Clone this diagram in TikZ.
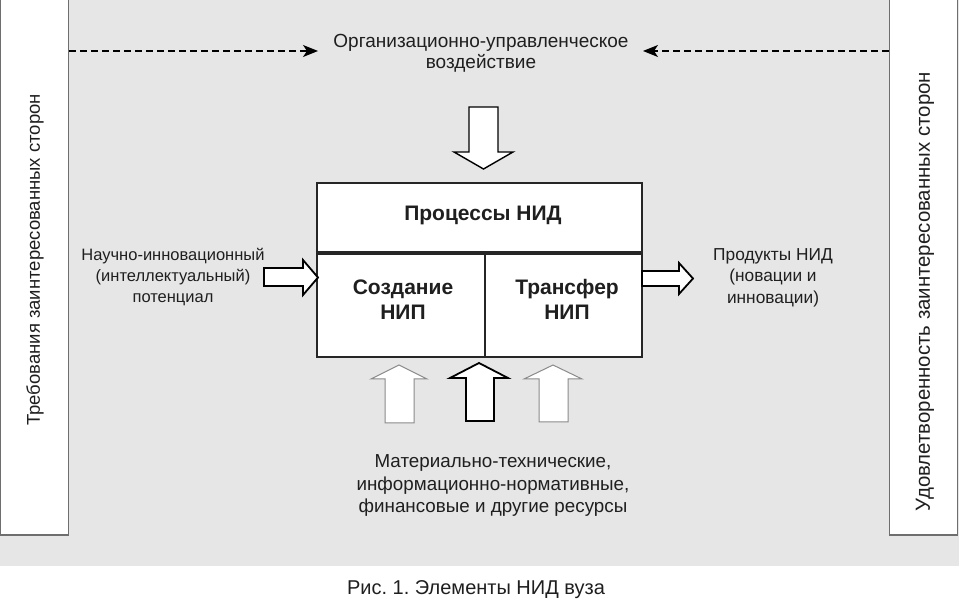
\documentclass[tikz,border=0pt]{standalone}
\usepackage{fontspec}
\setmainfont{Liberation Sans}
\usetikzlibrary{arrows.meta}
\definecolor{bggray}{HTML}{E6E6E6}
\definecolor{edgegray}{HTML}{6E6E6E}
\definecolor{lightedge}{HTML}{8A8A8A}
\frenchspacing
\begin{document}
\begin{tikzpicture}[x=1pt,y=-1pt,
  txt/.style={font=\fontsize{18.5}{21.5}\selectfont, align=center, inner sep=0pt, text=black!88},
  btxt/.style={font=\fontsize{21}{25}\selectfont\bfseries, align=center, inner sep=0pt, text=black!88},
  sidebox/.style={draw=edgegray, line width=1.3pt, fill=white, minimum width=68pt, minimum height=540pt, inner sep=0pt},
  cell/.style={draw=black!85, line width=1.8pt, fill=white, inner sep=0pt},
  dasharrow/.style={line width=1.4pt, dash pattern=on 7pt off 4pt, -{Stealth[length=15pt,width=12pt,inset=4pt]}},
  blockdark/.style={draw=black, line width=1.8pt, fill=white, line join=miter},
  blocklight/.style={draw=lightedge, line width=1pt, fill=white, line join=miter}
]
\useasboundingbox (0,0) rectangle (959,601);
\fill[bggray] (0,0) rectangle (959,566);

% side boxes
\node[sidebox] (left) at (34.5,265) {};
\node[sidebox] (right) at (923.5,265) {};
\node[txt, rotate=90] (lefttxt) at (35,260) {Требования заинтересованных сторон};
\node[txt, rotate=90, font=\fontsize{20.4}{24}\selectfont] (righttxt) at (925,291.5) {Удовлетворенность заинтересованных сторон};

% top text and dashed arrows
\node[txt, font=\fontsize{19}{21}\selectfont] (top) at (481,53) {Организационно-управленческое\\воздействие};
\coordinate (dl) at (318,51);
\coordinate (dr) at (643,51);
\draw[dasharrow] (left.east |- dl) -- (dl);
\draw[dasharrow] (right.west |- dr) -- (dr);

% main box
\node[cell, minimum width=325pt, minimum height=69pt] (proc) at (479.5,217.5) {};
\node[btxt] (proctxt) at (483,215) {Процессы НИД};
\node[cell, minimum width=168pt, minimum height=103pt, anchor=north west] (create) at (proc.south west) {};
\node[cell, minimum width=157pt, minimum height=103pt, anchor=north east] (transfer) at (proc.south east) {};
\node[btxt] (createtxt) at (403,299.5) {Создание\\НИП};
\node[btxt] (transfertxt) at (567,299.5) {Трансфер\\НИП};

% block arrows
\draw[blockdark, line width=1.4pt] (469,107) -- (498,107) -- (498,152) -- (513,152) -- (483.5,169) -- (454,152) -- (469,152) -- cycle;
\draw[blockdark] (264,268) -- (303,268) -- (303,260) -- (318,277.5) -- (303,295) -- (303,286) -- (264,286) -- cycle;
\draw[blockdark] (642,271) -- (679,271) -- (679,263) -- (693,278.5) -- (679,294) -- (679,286) -- (642,286) -- cycle;
\draw[blocklight] (385,423) -- (385,379) -- (371,379) -- (399,365) -- (427,379) -- (414,379) -- (414,423) -- cycle;
\draw[blockdark] (466,421) -- (466,378) -- (450,378) -- (479,363) -- (508,378) -- (494,378) -- (494,421) -- cycle;
\draw[blocklight] (539,422) -- (539,379) -- (524,379) -- (553,365) -- (582,379) -- (568,379) -- (568,422) -- cycle;

% side texts
\node[txt, font=\fontsize{16.5}{21}\selectfont] (inputtxt) at (173,277) {Научно-инновационный\\(интеллектуальный)\\потенциал};
\node[txt, font=\fontsize{17.3}{21.5}\selectfont] (outputtxt) at (773,277.5) {Продукты НИД\\(новации и\\инновации)};
\node[txt, font=\fontsize{18.8}{22.5}\selectfont] (restxt) at (493,485.5) {Материально-технические,\\информационно-нормативные,\\финансовые и другие ресурсы};

% caption
\node[txt, font=\fontsize{20}{24}\selectfont] (caption) at (476,590) {Рис. 1. Элементы НИД вуза};
\end{tikzpicture}
\end{document}
